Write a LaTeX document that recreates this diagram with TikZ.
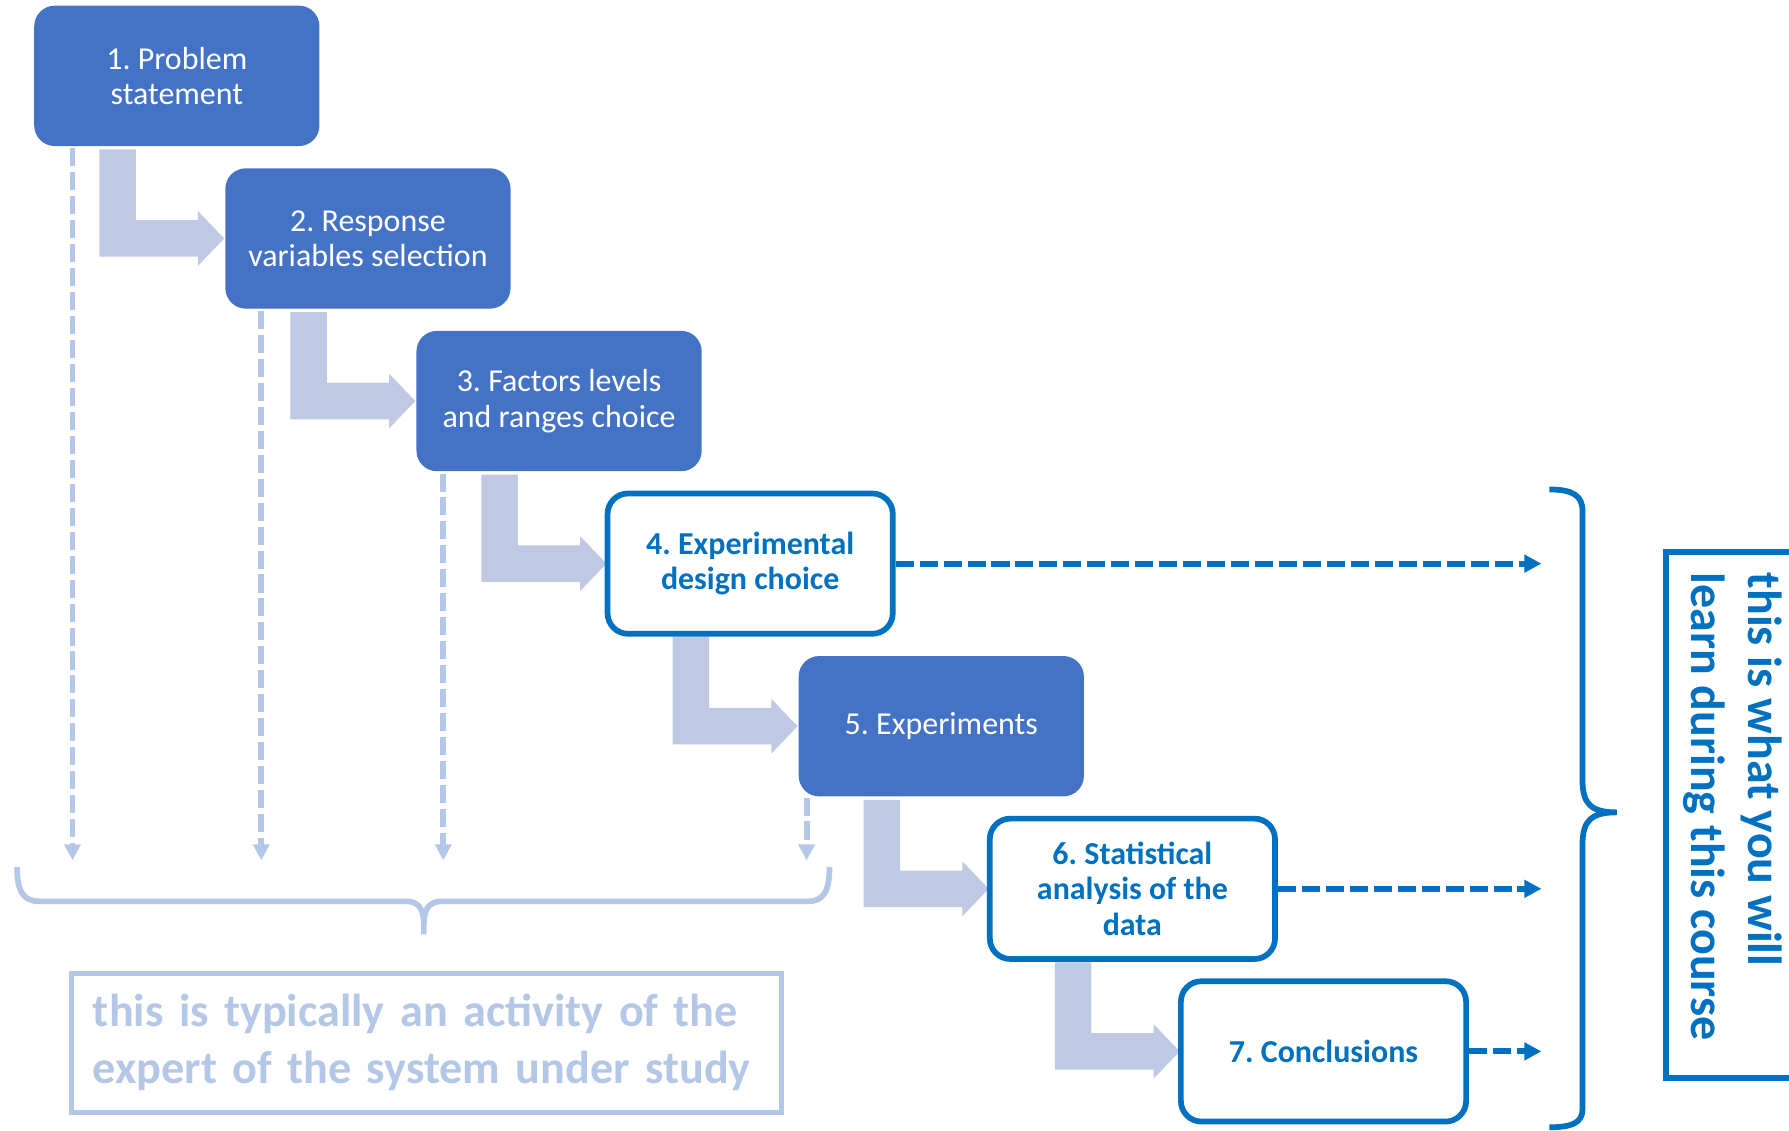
\documentclass[tikz,border=0pt]{standalone}
\usepackage{fontspec}
\setmainfont{Carlito}
\frenchspacing
\usetikzlibrary{arrows.meta,calc}
\definecolor{stepfill}{HTML}{4472C4}
\definecolor{courseblue}{HTML}{0070C0}
\definecolor{paleline}{HTML}{B4C7E7}
\definecolor{flowfill}{HTML}{BFC9E4}
\begin{document}
\begin{tikzpicture}[x=1pt,y=-1pt,
  stepbase/.style={rectangle, rounded corners=18pt, minimum width=250pt, minimum height=123pt,
    inner sep=0pt, outer sep=0pt, align=center, font=\fontsize{28}{31}\selectfont},
  expertstep/.style={stepbase, fill=stepfill, text=white},
  coursestep/.style={stepbase, draw=courseblue, line width=5pt, fill=white, text=courseblue,
    font=\fontsize{28}{31}\selectfont\bfseries},
  flowarrow/.style={fill=flowfill},
  expertline/.style={draw=paleline, line width=5pt, dash pattern=on 15.8pt off 5.2pt,
    -{Triangle[length=14pt,width=14pt]}},
  courseline/.style={draw=courseblue, line width=5.2pt, dash pattern=on 15.8pt off 5.2pt,
    -{Triangle[length=15pt,width=15pt]}},
  expertbrace/.style={draw=paleline, line width=5pt},
  coursebrace/.style={draw=courseblue, line width=5pt},
  expertnote/.style={draw=paleline, line width=4.5pt, minimum width=622pt, minimum height=122pt,
    inner sep=0pt, text width=585pt, align=left, text=paleline,
    font=\fontsize{40.5}{50}\selectfont\bfseries},
  coursenote/.style={rotate=-90, inner sep=0pt, align=left, text=courseblue,
    font=\fontsize{42}{50}\selectfont\bfseries}
]
\path[use as bounding box, clip] (0,0) rectangle (1568,991);
\fill[white] (0,0) rectangle (1568,991);

% the seven steps of the experimental workflow (placed first to get their anchors)
\path
  node[stepbase] (b1) at (155,66.5)   {}
  node[stepbase] (b2) at (322.5,209)  {}
  node[stepbase] (b3) at (490,351.5)  {}
  node[stepbase] (b4) at (657.5,494)  {}
  node[stepbase] (b5) at (825,636.5)  {}
  node[stepbase] (b6) at (992.5,779)  {}
  node[stepbase] (b7) at (1160,921.5) {};

% bent block arrows from each step to the next one
\foreach \a/\b in {b1/b2,b2/b3,b3/b4,b4/b5,b5/b6,b6/b7}{
  \coordinate (p1) at ($(\a.south west)+(57,3)$);
  \coordinate (p2) at ($(\a.south west)+(89,3)$);
  \coordinate (bw) at (\b.west);
  \coordinate (bt) at ($(\b.west)+(0,-16)$);
  \coordinate (bb) at ($(\b.west)+(0,16)$);
  \fill[flowarrow] (p1) -- (p2) -- (p2 |- bt) -- ($(bt)+(-24,0)$) -- ($(bw)+(-24,-24)$)
    -- ($(bw)+(-1,0)$) -- ($(bw)+(-24,24)$) -- ($(bb)+(-24,0)$) -- (p1 |- bb) -- cycle;
}

% the steps drawn on top of the block arrows
\node[expertstep] at (b1) {1. Problem\\statement};
\node[expertstep] at (b2) {2. Response\\variables selection};
\node[expertstep] at (b3) {3. Factors levels\\and ranges choice};
\node[coursestep] at (b4) {4. Experimental\\design choice};
\node[expertstep] at (b5) {5. Experiments};
\node[coursestep] at (b6) {6. Statistical\\analysis of the\\data};
\node[coursestep] at (b7) {7. Conclusions};

% dashed drops of the expert's steps
\coordinate (ds1) at ($(b1.south west)+(33.5,2)$);
\coordinate (ds2) at ($(b2.south west)+(31.5,2)$);
\coordinate (ds3) at ($(b3.south west)+(23.5,2)$);
\coordinate (ds5) at ($(b5.south west)+(7,1)$);
\coordinate (dy) at (0,754);
\draw[expertline] (ds1) -- (ds1 |- dy);
\draw[expertline] (ds2) -- (ds2 |- dy);
\draw[expertline] (ds3) -- (ds3 |- dy);
\draw[expertline] (ds5) -- (ds5 |- dy);

% dashed arrows of the course steps
\coordinate (rx) at (1351,0);
\draw[courseline] ($(b4.east)+(2.5,0)$) -- (b4.east -| rx);
\draw[courseline] ($(b6.east)+(2.5,0)$) -- (b6.east -| rx);
\draw[courseline] ($(b7.east)+(2.5,0)$) -- (b7.east -| rx);

% brace under the expert's steps
\draw[expertbrace] (15,760) .. controls (15,781) and (20,790) .. (35,790) -- (356,790)
  .. controls (367,790) and (371.5,797) .. (371.5,810) -- (371.5,819);
\draw[expertbrace] (371.5,810) .. controls (371.5,797) and (376,790) .. (387,790) -- (708,790)
  .. controls (722,790) and (727,781) .. (727,760);
\node[expertnote] (expert) at (374,914) {this is typically an activity of the\\expert of the system under study};

% brace beside the course steps
\draw[coursebrace] (1358,429) .. controls (1378,429) and (1387,434) .. (1387,448) -- (1387,684)
  .. controls (1387,705) and (1395,712) .. (1417,712)
  .. controls (1395,712) and (1387,719) .. (1387,740) -- (1387,972)
  .. controls (1387,984) and (1378,988) .. (1358,988);
\draw[courseblue, line width=5pt] (1460,484) rectangle (1620,945);
\node[coursenote] (course) at (1519,707) {this is what you will\\learn during this course};
\end{tikzpicture}
\end{document}
